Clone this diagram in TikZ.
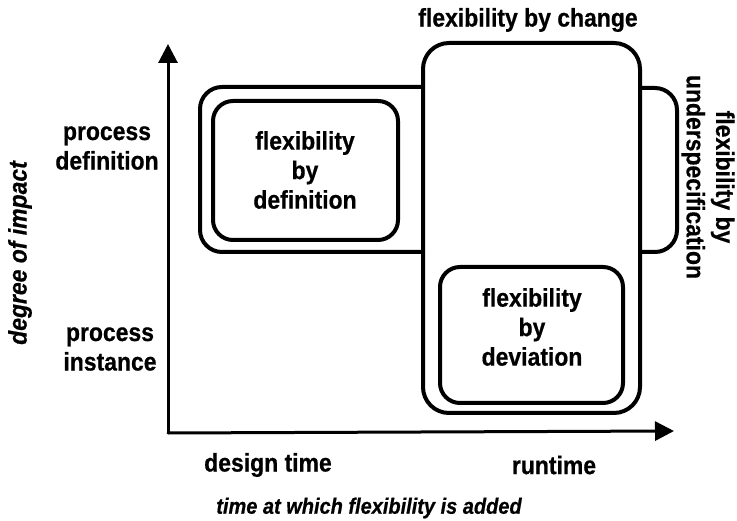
\documentclass[tikz,border=0pt]{standalone}
\usepackage{fontspec}
\setmainfont{Liberation Sans}[FakeStretch=0.9,BoldFeatures={FakeBold=0.6},BoldItalicFeatures={FakeBold=0.6}]
\usetikzlibrary{arrows.meta}
\begin{document}
\begin{tikzpicture}[x=1pt,y=-1pt,
  lbl/.style={font=\bfseries\fontsize{25.5}{29.5}\selectfont, align=center, inner sep=0pt},
  ilbl/.style={font=\bfseries\itshape\fontsize{25.5}{29}\selectfont, align=center, inner sep=0pt},
  box/.style={draw, line width=4pt, rounded corners=22pt},
  axis/.style={line width=3pt, -{Triangle[length=19pt,width=19pt]}},
  line join=round, line cap=round]
\useasboundingbox (0,0) rectangle (737,521);
% axes
\coordinate (O) at (168,433);
\coordinate (ytip) at (168,44);
\coordinate (xtip) at (674,431);
\draw[axis] (O) -- (ytip);
\draw[axis] (O) -- (xtip);
% flexibility by change (main)
\draw[box, rounded corners=26pt] (423,43) rectangle (640,413);
% outer definition
\draw[box] (423,87) -- (200,87) -- (200,252) -- (423,252);
% underspecification bump
\draw[box] (640,88) -- (677,88) -- (677,252) -- (640,252);
% inner definition
\draw[box, rounded corners=20pt] (213,101) rectangle (398,240);
\node[lbl] (def) at (305,170) {flexibility\\by\\definition};
% deviation
\draw[box, rounded corners=20pt] (440,267) rectangle (623,403);
\node[lbl] (dev) at (532,327) {flexibility\\by\\deviation};
% labels
\node[lbl] (chg) at (528,20) {flexibility by change};
\node[lbl, rotate=-90] (und) at (708,177) {flexibility by\\underspecification};
\node[lbl] (pd) at (107,148) {process\\definition};
\node[lbl] (pi) at (110,349) {process\\instance};
\node[ilbl, rotate=90] (doi) at (20,253) {degree of \textit{impact}};
\node[lbl] (dt) at (268,465) {design time};
\node[lbl] (rt) at (554,465) {runtime};
\node[ilbl, font=\bfseries\itshape\fontsize{22.2}{24}\selectfont] (tf) at (369,508) {time at which flexibility is added};
\end{tikzpicture}
\end{document}
